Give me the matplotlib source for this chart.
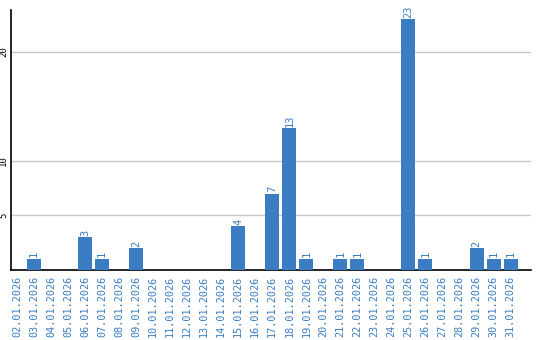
import matplotlib
matplotlib.use("Agg")
import matplotlib.pyplot as plt
import numpy as np

days = ["%02d.01.2026" % d for d in range(2, 32)]
counts = [0, 1, 0, 0, 3, 1, 0, 2, 0, 0, 0, 0, 0, 4, 0,
          7, 13, 1, 0, 1, 1, 0, 0, 23, 1, 0, 0, 2, 1, 1]
yticks = [5, 10, 20]

blue = "#3a7dc3"

fig = plt.figure(figsize=(5.4, 3.4), dpi=100)
ax = fig.add_axes([11 / 540, 70 / 340, 520 / 540, 260 / 340])

x = np.arange(len(days))
ax.bar(x, counts, width=0.82, color=blue, zorder=3)

for xi, c in zip(x, counts):
    if c > 0:
        ax.text(xi, c + 0.15, str(c), rotation=90, ha="center", va="bottom",
                color=blue, fontsize=7.5, family="DejaVu Sans Mono")

ax.set_xlim(-0.35, 30.2)
ax.set_ylim(0, 23.85)
ax.set_yticks(yticks)
ax.set_yticklabels([str(v) for v in yticks], rotation=90, va="center",
                   fontsize=6.5, family="DejaVu Sans Mono")
ax.set_xticks(x)
ax.set_xticklabels(days, rotation=90, color=blue, fontsize=7.3,
                   family="DejaVu Sans Mono")
ax.tick_params(axis="both", length=0, pad=2)
ax.tick_params(axis="x", pad=4)
ax.grid(axis="y", color="#c8c8c8", linewidth=1, zorder=0)

for s in ["top", "right"]:
    ax.spines[s].set_visible(False)
ax.spines["left"].set_color("black")
ax.spines["bottom"].set_color("black")
ax.spines["left"].set_linewidth(1.2)
ax.spines["bottom"].set_linewidth(1.2)

fig.savefig("out.png", dpi=100)
